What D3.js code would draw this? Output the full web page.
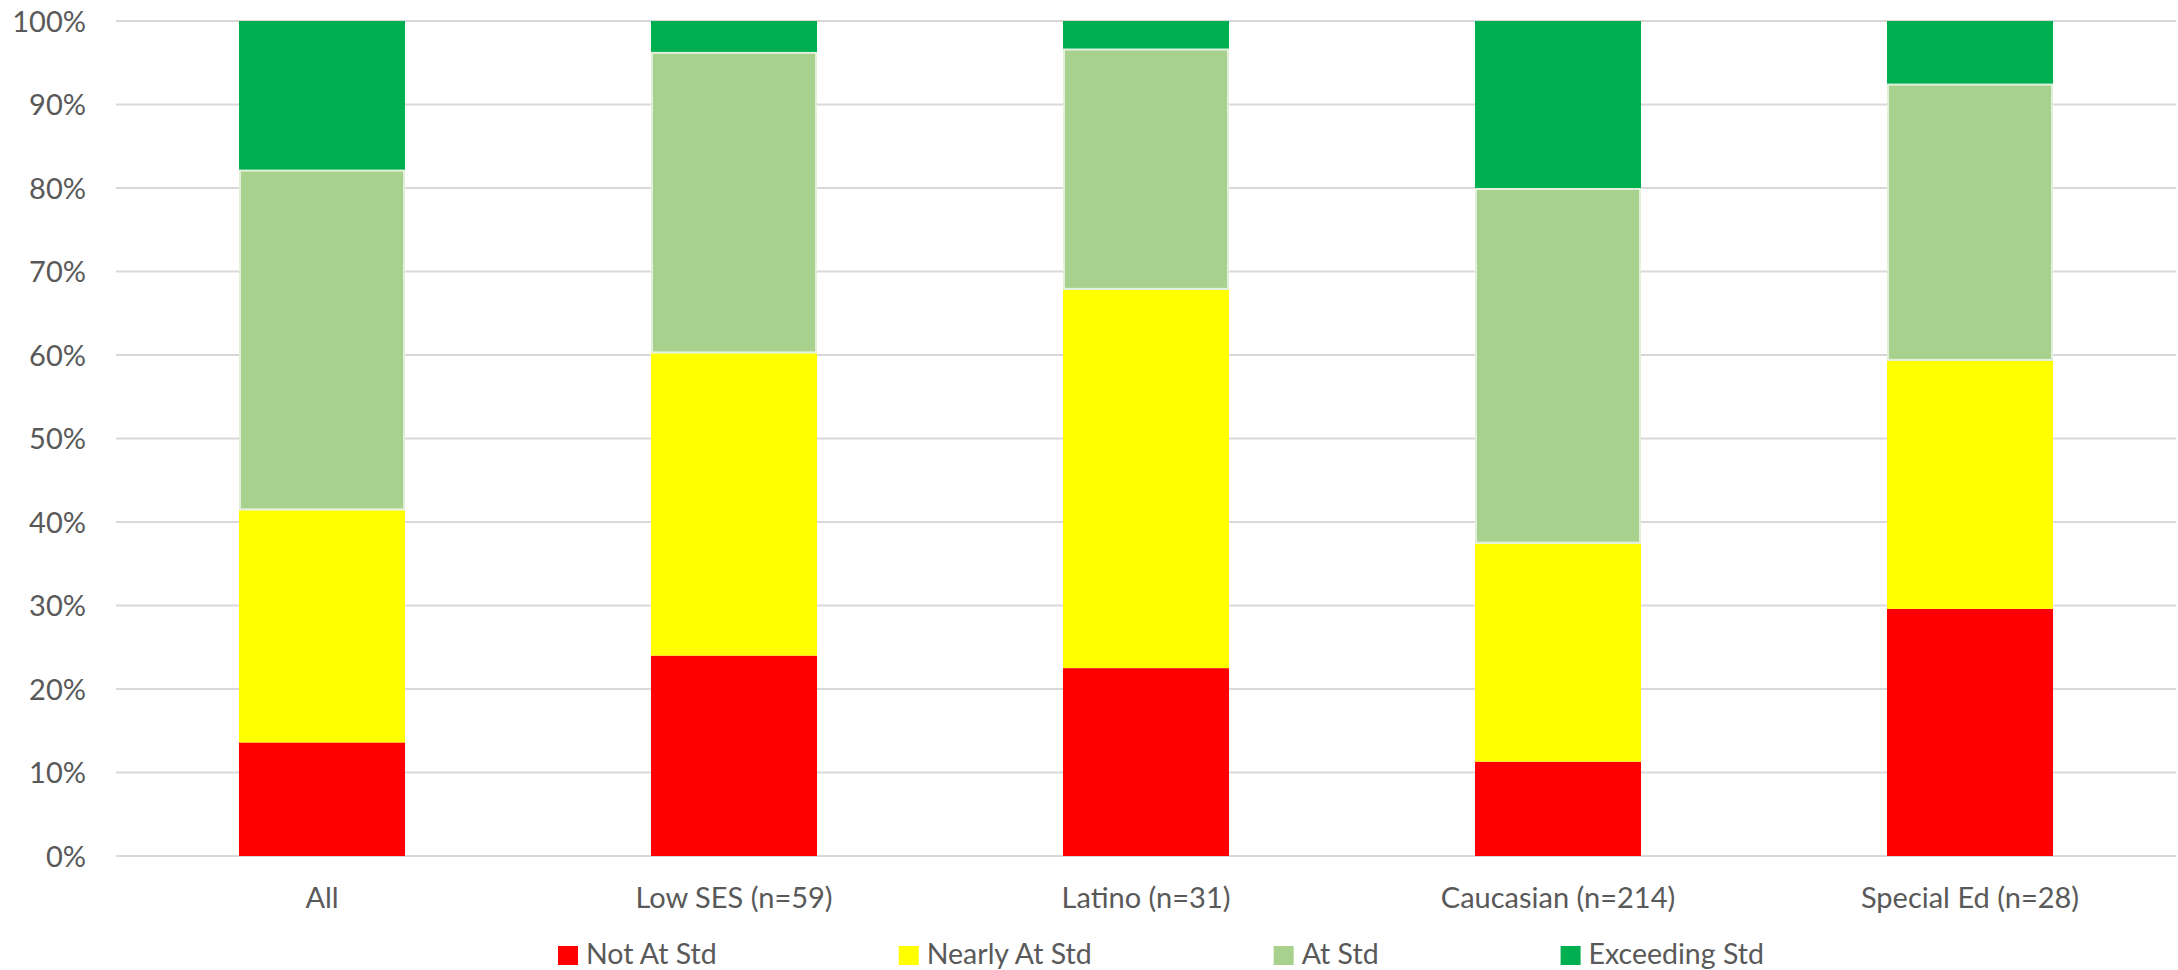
<!DOCTYPE html>
<html>
<head>
<meta charset="utf-8">
<script src="https://cdn.jsdelivr.net/npm/d3@7"></script>
<style>
    body { margin: 0; background: #ffffff; }
    text { font-family: Lato, "Open Sans", sans-serif; fill: #595959; }
</style>
</head>
<body>
<div id="chart"></div>
<script>
// categorias y series (porcentajes)
const categories = ['All', 'Low SES (n=59)', 'Latino (n=31)', 'Caucasian (n=214)', 'Special Ed (n=28)'];
const seriesNames = ['Not At Std', 'Nearly At Std', 'At Std', 'Exceeding Std'];
const notAtStd = [13.6, 24.0, 22.5, 11.3, 29.6];
const nearlyAtStd = [27.8, 36.2, 45.3, 26.1, 29.7];
const atStd = [40.8, 36.1, 28.9, 42.6, 33.2];
const exceedingStd = [17.8, 3.7, 3.3, 20.0, 7.5];
const yTicks = [0, 10, 20, 30, 40, 50, 60, 70, 80, 90, 100];
const colors = ['#ff0000', '#ffff00', '#a9d18e', '#00b050'];

const width = 2178;
const height = 970;
const margin = { top: 21, right: 2, bottom: 114, left: 116 };

const svg = d3.select('#chart')
    .append('svg')
    .attr('width', width)
    .attr('height', height);

// tabla para d3.stack
const rows = categories.map((c, i) => ({
    cat: c,
    'Not At Std': notAtStd[i],
    'Nearly At Std': nearlyAtStd[i],
    'At Std': atStd[i],
    'Exceeding Std': exceedingStd[i]
}));
const stacked = d3.stack().keys(seriesNames)(rows);

const x = d3.scaleBand()
    .domain(categories)
    .range([margin.left, width - margin.right])
    .paddingInner(0.597)
    .paddingOuter(0.2985);

const y = d3.scaleLinear()
    .domain([0, 100])
    .range([height - margin.bottom, margin.top]);

// Rejilla
svg.append('g')
    .selectAll('line')
    .data(yTicks)
    .enter()
    .append('line')
    .attr('x1', margin.left)
    .attr('x2', width - margin.right)
    .attr('y1', d => y(d))
    .attr('y2', d => y(d))
    .attr('stroke', '#d9d9d9')
    .attr('stroke-width', 2);

// Eje Y
const yAxis = svg.append('g')
    .attr('transform', `translate(${margin.left - 30},0)`)
    .call(d3.axisLeft(y).tickValues(yTicks).tickSize(0).tickPadding(0).tickFormat(d => d + '%'));
yAxis.select('.domain').remove();
yAxis.selectAll('text')
    .attr('font-size', 29)
    .attr('dy', '0.35em')
    .style('font-family', 'Lato, "Open Sans", sans-serif')
    .attr('fill', '#595959');

// Barras
svg.append('g')
    .selectAll('g')
    .data(stacked)
    .enter()
    .append('g')
    .attr('fill', (d, i) => colors[i])
    .each(function(s, si) {
        d3.select(this).selectAll('rect')
            .data(s)
            .enter()
            .append('rect')
            .attr('x', d => x(d.data.cat) + (si === 2 ? 1 : 0))
            .attr('width', x.bandwidth() - (si === 2 ? 2 : 0))
            .attr('y', d => y(d[1]) + (si === 2 ? 1 : 0))
            .attr('height', d => y(d[0]) - y(d[1]) - (si === 2 ? 2 : 0))
            .attr('stroke', si === 2 ? '#e2efda' : 'none')
            .attr('stroke-width', si === 2 ? 2 : 0);
    });

// Eje X
const xAxis = svg.append('g')
    .attr('transform', `translate(0,${height - margin.bottom})`)
    .call(d3.axisBottom(x).tickSize(0).tickPadding(0));
xAxis.select('.domain').remove();
xAxis.selectAll('text')
    .attr('font-size', 29)
    .attr('y', 52)
    .attr('dy', 0)
    .style('font-family', 'Lato, "Open Sans", sans-serif')
    .attr('fill', '#595959');

// Leyenda
const legend = svg.append('g');
let lx = 558;
seriesNames.forEach((name, i) => {
    const item = legend.append('g').attr('transform', `translate(${lx},0)`);
    item.append('rect')
        .attr('x', 0)
        .attr('y', 946)
        .attr('width', 20)
        .attr('height', 19)
        .attr('fill', colors[i]);
    const t = item.append('text')
        .attr('x', 28)
        .attr('y', 964)
        .attr('font-size', 28.5)
        .text(name);
    lx += t.node().getComputedTextLength() + 210;
});
</script>
</body>
</html>
